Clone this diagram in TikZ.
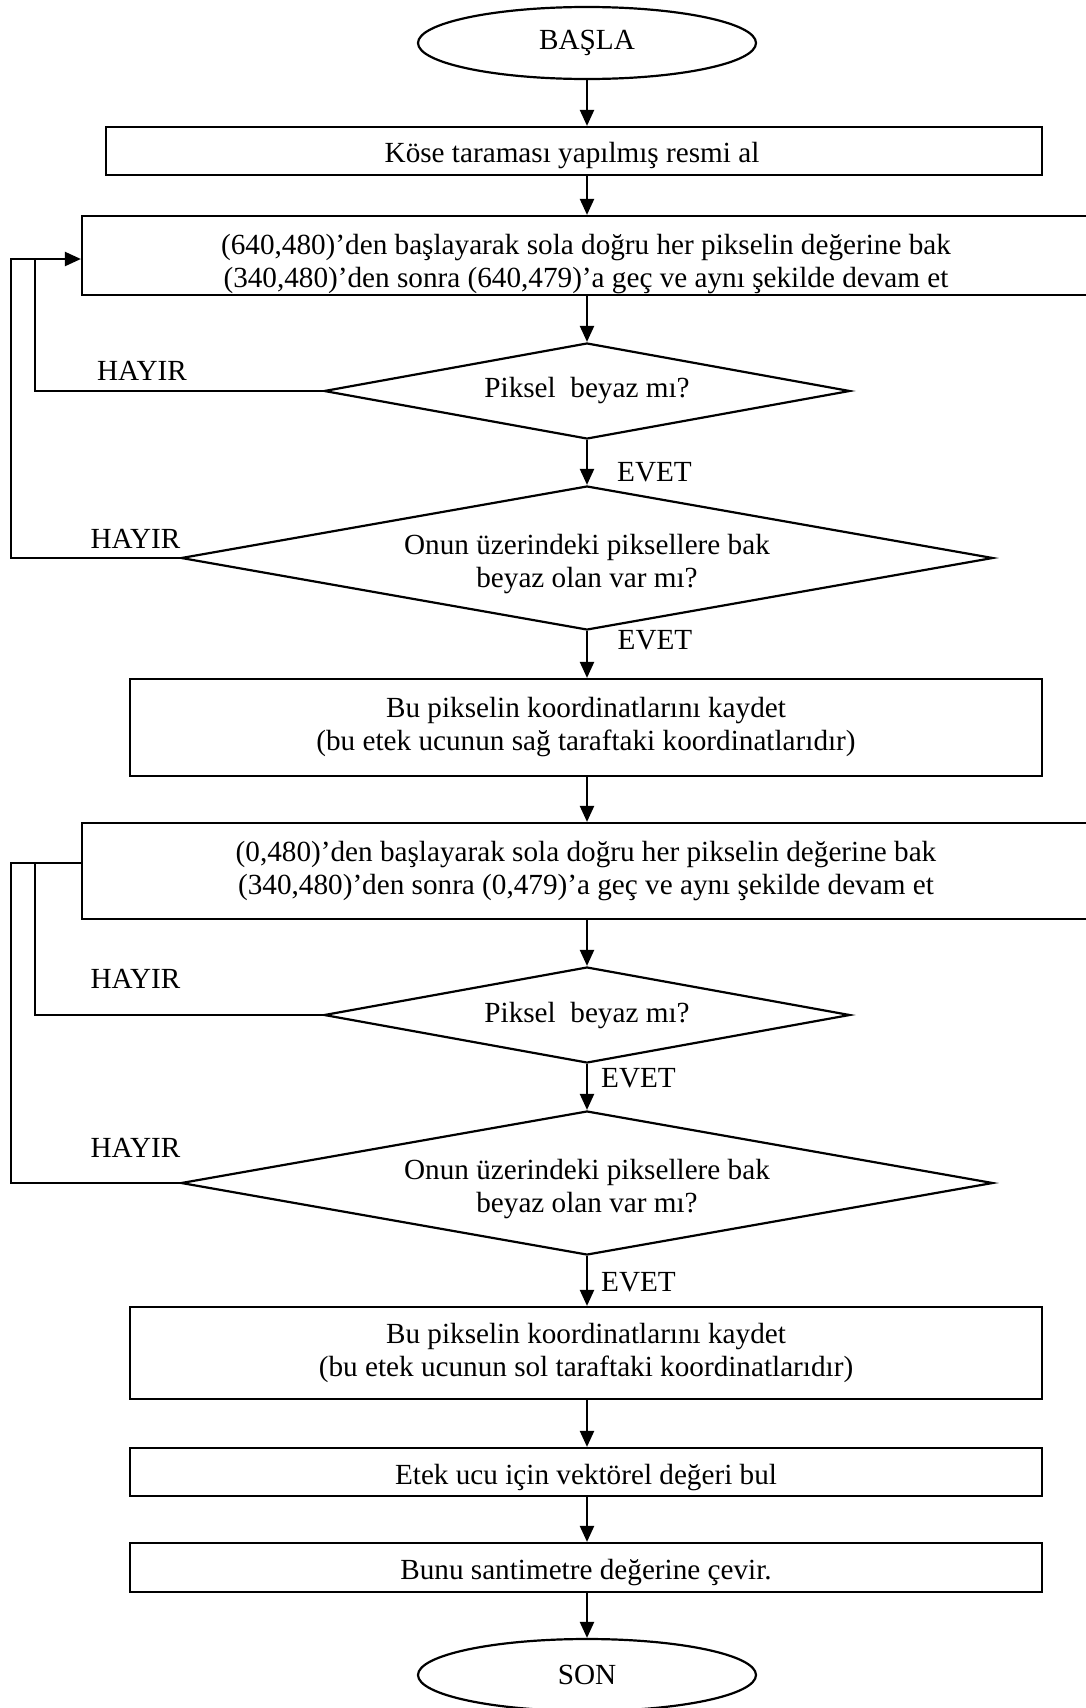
\documentclass[tikz,border=0pt]{standalone}
\usepackage{fontspec}
\setmainfont{Liberation Serif}
\usetikzlibrary{shapes.geometric,arrows.meta}
\begin{document}
\begin{tikzpicture}[x=1pt,y=-1pt,line width=2.2pt,line join=miter,
  font=\fontsize{29.2}{33}\selectfont,
  box/.style={draw,rectangle,inner sep=0pt,align=center},
  dec/.style={draw,diamond,inner sep=0pt,aspect=5.6},
  term/.style={draw,ellipse,inner sep=0pt,minimum width=338pt,minimum height=72pt},
  txt/.style={inner sep=0pt,align=center},
  lbl/.style={inner sep=0pt},
  arr/.style={-{Triangle[length=16pt,width=14pt]}}]
\useasboundingbox (0,0) rectangle (1086,1708);
\coordinate (ax) at (587,0);
% nodes
\node[term] (start) at (587,43) {BAŞLA};
\node[box,minimum width=936pt,minimum height=48pt] (b1) at (574,151) {};
\node[txt] (b1t) at (572,156) {Köse taraması yapılmış resmi al};
\node[box,minimum width=1008pt,minimum height=79pt] (b2) at (586,255.5) {};
\node[txt] (b2t) at (586,264) {(640,480)’den başlayarak sola doğru her pikselin değerine bak\\(340,480)’den sonra (640,479)’a geç ve aynı şekilde devam et};
\node[dec,minimum width=526pt,minimum height=96pt] (d1) at (587,391) {};
\node[txt] (d1t) at (587,391) {Piksel~ beyaz mı?};
\node[dec,minimum width=812pt,minimum height=144pt] (d2) at (587,558) {};
\node[txt] (d2t) at (587,564) {Onun üzerindeki piksellere bak\\beyaz olan var mı?};
\node[box,minimum width=912pt,minimum height=97pt] (b3) at (586,727.5) {Bu pikselin koordinatlarını kaydet\\(bu etek ucunun sağ taraftaki koordinatlarıdır)};
\node[box,minimum width=1008pt,minimum height=96pt] (b4) at (586,871) {(0,480)’den başlayarak sola doğru her pikselin değerine bak\\(340,480)’den sonra (0,479)’a geç ve aynı şekilde devam et};
\node[dec,minimum width=526pt,minimum height=96pt] (d3) at (587,1015) {};
\node[txt] (d3t) at (587,1016) {Piksel~ beyaz mı?};
\node[dec,minimum width=812pt,minimum height=144pt] (d4) at (587,1183) {};
\node[txt] (d4t) at (587,1189) {Onun üzerindeki piksellere bak\\beyaz olan var mı?};
\node[box,minimum width=912pt,minimum height=92pt] (b5) at (586,1353) {Bu pikselin koordinatlarını kaydet\\(bu etek ucunun sol taraftaki koordinatlarıdır)};
\node[box,minimum width=912pt,minimum height=48pt] (b6) at (586,1472) {};
\node[txt] (b6t) at (586,1478) {Etek ucu için vektörel değeri bul};
\node[box,minimum width=912pt,minimum height=49pt] (b7) at (586,1567.5) {};
\node[txt] (b7t) at (586,1573) {Bunu santimetre değerine çevir.};
\node[term] (end) at (587,1675) {SON};
% labels
\node[lbl] (h1) at (142,370.6) {HAYIR};
\node[lbl] (h2) at (135.5,538.6) {HAYIR};
\node[lbl] (h3) at (135.5,979) {HAYIR};
\node[lbl] (h4) at (135.5,1147.5) {HAYIR};
\node[lbl] (e1) at (654.5,472.6) {EVET};
\node[lbl] (e2) at (655,640.6) {EVET};
\node[lbl] (e3) at (638.5,1078.6) {EVET};
\node[lbl] (e4) at (638.5,1282.6) {EVET};
% main flow
\draw[arr] (start) -- (b1.north -| ax);
\draw[arr] (b1.south -| ax) -- (b2.north -| ax);
\draw[arr] (b2.south -| ax) -- (d1.north);
\draw[arr] (d1.south) -- (d2.north);
\draw[arr] (d2.south) -- (b3.north -| ax);
\draw[arr] (b3.south -| ax) -- (b4.north -| ax);
\draw[arr] (b4.south -| ax) -- (d3.north);
\draw[arr] (d3.south) -- (d4.north);
\draw[arr] (d4.south) -- (b5.north -| ax);
\draw[arr] (b5.south -| ax) -- (b6.north -| ax);
\draw[arr] (b6.south -| ax) -- (b7.north -| ax);
\draw[arr] (b7.south -| ax) -- (end);
% loops
\coordinate (j1) at (11,259);
\coordinate (j2) at (35,259);
\coordinate (j3) at (11,863);
\coordinate (j4) at (35,863);
\draw[arr] (d2.west) -| (j1) -- (j1 -| b2.west);
\draw (d1.west) -| (j2);
\draw (d4.west) -| (j3) -- (j3 -| b4.west);
\draw (d3.west) -| (j4);
\end{tikzpicture}
\end{document}
